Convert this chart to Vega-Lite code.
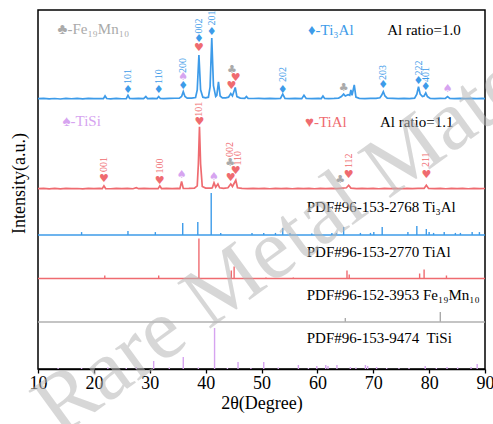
{
  "$schema": "https://vega.github.io/schema/vega-lite/v6.json",
  "width": 447,
  "height": 359,
  "autosize": "none",
  "padding": {"left": 38, "top": 10, "right": 8, "bottom": 55},
  "background": "white",
  "config": {
    "view": {"stroke": "#000000", "strokeWidth": 1.5},
    "font": "Liberation Serif",
    "text": {"font": "Liberation Serif"}
  },
  "datasets": {
    "blue": [
      {"t":10.0,"i":0.5},{"t":11,"i":1},{"t":12,"i":0.2},{"t":13,"i":0.8},{"t":14,"i":0},{"t":15,"i":1},{"t":16,"i":0.4},{"t":17,"i":0.9},{"t":18,"i":0.2},{"t":19,"i":1},{"t":20,"i":0.5},{"t":21,"i":0.8},
      {"t":21.7,"i":0.5},{"t":22.0,"i":5},{"t":22.3,"i":0.8},{"t":23,"i":0.3},{"t":24,"i":1},{"t":25,"i":0.4},
      {"t":25.8,"i":0.6},{"t":26.1,"i":6},{"t":26.4,"i":0.8},{"t":27,"i":0.5},{"t":28,"i":1},{"t":28.9,"i":0.5},{"t":29.3,"i":4},{"t":29.6,"i":0.6},
      {"t":30.5,"i":1},{"t":31.3,"i":0.7},{"t":31.6,"i":4},{"t":31.9,"i":0.8},{"t":32.5,"i":0.5},{"t":33.5,"i":1},{"t":34.5,"i":1.2},{"t":35.3,"i":1.5},
      {"t":35.7,"i":4},{"t":36.0,"i":12},{"t":36.3,"i":4},{"t":36.7,"i":1.5},{"t":37.5,"i":1.5},{"t":38.2,"i":2.5},{"t":38.5,"i":15},{"t":38.8,"i":72},{"t":39.1,"i":15},
      {"t":39.5,"i":3},{"t":40.0,"i":2},{"t":40.5,"i":3},{"t":40.8,"i":20},{"t":41.1,"i":100},{"t":41.4,"i":22},{"t":41.8,"i":4},{"t":42.0,"i":6},{"t":42.3,"i":28},{"t":42.6,"i":5},
      {"t":43.0,"i":2},{"t":43.6,"i":2},{"t":44.1,"i":3},{"t":44.5,"i":9},{"t":44.8,"i":5},{"t":45.3,"i":19},{"t":45.6,"i":4},{"t":46.2,"i":1.5},{"t":47.0,"i":1},{"t":47.3,"i":4},{"t":47.6,"i":1},
      {"t":48.5,"i":0.8},{"t":49.5,"i":1},{"t":50.5,"i":0.5},{"t":51.5,"i":1},{"t":52.5,"i":0.6},{"t":53.4,"i":1},{"t":53.8,"i":8},{"t":54.2,"i":1},{"t":55,"i":0.6},{"t":56,"i":1},
      {"t":57.2,"i":0.6},{"t":57.6,"i":6},{"t":58.0,"i":0.8},{"t":59,"i":0.5},{"t":60.2,"i":1},{"t":60.7,"i":0.8},{"t":61.0,"i":5},{"t":61.3,"i":0.8},{"t":62,"i":0.6},{"t":63,"i":1},
      {"t":63.8,"i":1.5},{"t":64.3,"i":4},{"t":64.7,"i":8},{"t":65.0,"i":5},{"t":65.5,"i":7},{"t":65.8,"i":6},{"t":66.0,"i":15},{"t":66.2,"i":6},{"t":66.6,"i":23},{"t":66.9,"i":3},
      {"t":67.5,"i":1},{"t":68.5,"i":0.6},{"t":69.5,"i":1},{"t":70.5,"i":1},{"t":71.2,"i":2},{"t":71.5,"i":6},{"t":71.8,"i":12},{"t":72.1,"i":5},{"t":72.5,"i":1.5},
      {"t":73.5,"i":1},{"t":74.5,"i":0.6},{"t":75.5,"i":1},{"t":76.5,"i":0.5},{"t":77.4,"i":1.5},{"t":77.8,"i":8},{"t":78.1,"i":20},{"t":78.4,"i":8},{"t":78.8,"i":4},{"t":79.1,"i":5},{"t":79.4,"i":10},{"t":79.7,"i":4},
      {"t":80.2,"i":1},{"t":81,"i":0.6},{"t":82,"i":1},{"t":82.9,"i":0.8},{"t":83.3,"i":4},{"t":83.7,"i":1},{"t":84.5,"i":0.6},{"t":85.5,"i":1},{"t":86.5,"i":0.5},{"t":87.5,"i":1},{"t":88.5,"i":0.5},{"t":89.5,"i":1},{"t":90,"i":0.6}
    ],
    "red": [
      {"t":10,"i":0.5},{"t":11,"i":1},{"t":12,"i":0.3},{"t":13,"i":0.9},{"t":14,"i":0.2},{"t":15,"i":1},{"t":16,"i":0.5},{"t":17,"i":0.8},{"t":18,"i":0.3},{"t":19,"i":1},{"t":20,"i":0.5},{"t":21,"i":0.9},
      {"t":21.5,"i":0.6},{"t":21.8,"i":5},{"t":22.1,"i":0.7},{"t":23,"i":0.4},{"t":24,"i":1},{"t":25,"i":0.5},{"t":26,"i":0.9},{"t":27,"i":0.4},{"t":27.6,"i":2},{"t":28,"i":0.5},{"t":29,"i":1},{"t":30,"i":0.5},{"t":31,"i":0.8},
      {"t":31.5,"i":0.6},{"t":31.8,"i":5},{"t":32.1,"i":0.7},{"t":33,"i":1},{"t":34,"i":0.5},{"t":35,"i":1},{"t":35.4,"i":0.8},{"t":35.7,"i":12},{"t":36.0,"i":0.8},{"t":37,"i":1},{"t":38,"i":1.5},
      {"t":38.5,"i":5},{"t":38.7,"i":40},{"t":38.9,"i":100},{"t":39.1,"i":40},{"t":39.4,"i":4},{"t":40,"i":1.5},{"t":41,"i":1.5},{"t":41.2,"i":2},{"t":41.5,"i":10},{"t":41.8,"i":3},{"t":42.2,"i":8},{"t":42.5,"i":2},
      {"t":43.2,"i":1},{"t":44.0,"i":2},{"t":44.5,"i":8},{"t":44.8,"i":4},{"t":45.4,"i":14},{"t":45.7,"i":2},{"t":46.5,"i":1},{"t":47.5,"i":0.6},{"t":48.5,"i":1},{"t":49.5,"i":0.5},
      {"t":50.5,"i":1},{"t":51.5,"i":0.4},{"t":52.5,"i":1},{"t":53.5,"i":0.5},{"t":54.5,"i":0.9},{"t":55.5,"i":0.4},{"t":56.5,"i":1},{"t":57.5,"i":0.5},{"t":58.5,"i":0.9},{"t":59.5,"i":0.4},
      {"t":60.5,"i":1},{"t":61.5,"i":0.5},{"t":62.5,"i":0.9},{"t":63.5,"i":0.5},{"t":64.5,"i":1.5},{"t":65.2,"i":2},{"t":65.6,"i":6},{"t":66.0,"i":1.5},{"t":67,"i":0.6},{"t":68,"i":1},{"t":69,"i":0.5},
      {"t":70,"i":0.9},{"t":71,"i":0.4},{"t":72,"i":1},{"t":73,"i":0.5},{"t":74,"i":0.9},{"t":75,"i":0.4},{"t":76,"i":1},{"t":77,"i":0.5},{"t":78,"i":0.9},{"t":79.1,"i":1},{"t":79.5,"i":6},{"t":79.9,"i":1},
      {"t":81,"i":0.5},{"t":82,"i":1},{"t":83,"i":0.4},{"t":84,"i":0.9},{"t":85,"i":0.5},{"t":86,"i":1},{"t":87,"i":0.4},{"t":88,"i":0.9},{"t":89,"i":0.5},{"t":90,"i":0.8}
    ],
    "blueMarks": [
      {"t":26.1,"i":14.8,"g":"♦","phase":"Ti3Al"},
      {"t":31.6,"i":14.8,"g":"♦","phase":"Ti3Al"},
      {"t":36.0,"i":21.3,"g":"♦","phase":"Ti3Al"},
      {"t":36.0,"i":36.5,"g":"♠","phase":"TiSi"},
      {"t":38.8,"i":83.1,"g":"♥","phase":"TiAl"},
      {"t":38.8,"i":97.8,"g":"♦","phase":"Ti3Al"},
      {"t":41.1,"i":110.3,"g":"♦","phase":"Ti3Al"},
      {"t":44.6,"i":21.3,"g":"♥","phase":"TiAl"},
      {"t":44.7,"i":47.5,"g":"♣","phase":"Fe19Mn10"},
      {"t":45.4,"i":33.9,"g":"♥","phase":"TiAl"},
      {"t":53.8,"i":14.8,"g":"♦","phase":"Ti3Al"},
      {"t":64.7,"i":17.5,"g":"♣","phase":"Fe19Mn10"},
      {"t":71.8,"i":22.9,"g":"♦","phase":"Ti3Al"},
      {"t":78.1,"i":29.5,"g":"♦","phase":"Ti3Al"},
      {"t":79.4,"i":19.2,"g":"♦","phase":"Ti3Al"},
      {"t":83.3,"i":15.9,"g":"♠","phase":"TiSi"}
    ],
    "blueLabels": [
      {"t":26.1,"i":24.6,"hkl":"101","phase":"Ti3Al"},
      {"t":31.6,"i":24.6,"hkl":"110","phase":"Ti3Al"},
      {"t":36.0,"i":42.6,"hkl":"200","phase":"Ti3Al"},
      {"t":38.8,"i":107.4,"hkl":"002","phase":"Ti3Al"},
      {"t":41.1,"i":120.5,"hkl":"201","phase":"Ti3Al"},
      {"t":53.8,"i":27.9,"hkl":"202","phase":"Ti3Al"},
      {"t":71.8,"i":31.1,"hkl":"203","phase":"Ti3Al"},
      {"t":78.1,"i":38.5,"hkl":"222","phase":"Ti3Al"},
      {"t":79.4,"i":27.9,"hkl":"401","phase":"Ti3Al"}
    ],
    "blueNotes": [
      {"t":13.5,"i":114.7,"txt":"♣-Fe₁₉Mn₁₀","phase":"Fe19Mn10"},
      {"t":58.3,"i":113,"txt":"♦-Ti₃Al","phase":"Ti3Al"},
      {"t":72.5,"i":113,"txt":"Al ratio=1.0","phase":"none"}
    ],
    "redMarks": [
      {"t":21.8,"i":15.6,"g":"♥","phase":"TiAl"},
      {"t":31.8,"i":12.8,"g":"♥","phase":"TiAl"},
      {"t":35.7,"i":22.5,"g":"♠","phase":"TiSi"},
      {"t":38.9,"i":108,"g":"♥","phase":"TiAl"},
      {"t":41.5,"i":19.7,"g":"♠","phase":"TiSi"},
      {"t":44.5,"i":17.2,"g":"♥","phase":"TiAl"},
      {"t":44.4,"i":42.2,"g":"♣","phase":"Fe19Mn10"},
      {"t":45.4,"i":28.9,"g":"♥","phase":"TiAl"},
      {"t":64.1,"i":14.4,"g":"♣","phase":"Fe19Mn10"},
      {"t":65.6,"i":22.5,"g":"♥","phase":"TiAl"},
      {"t":79.5,"i":22.5,"g":"♥","phase":"TiAl"}
    ],
    "redLabels": [
      {"t":21.8,"i":27.3,"hkl":"001","phase":"TiAl"},
      {"t":31.8,"i":24.9,"hkl":"100","phase":"TiAl"},
      {"t":38.9,"i":116,"hkl":"101","phase":"TiAl"},
      {"t":44.4,"i":51.4,"hkl":"002","phase":"TiAl"},
      {"t":45.8,"i":37.7,"hkl":"110","phase":"TiAl"},
      {"t":65.6,"i":33.7,"hkl":"112","phase":"TiAl"},
      {"t":79.5,"i":35.3,"hkl":"211","phase":"TiAl"}
    ],
    "redNotes": [
      {"t":14.4,"i":109.1,"txt":"♠-TiSi","phase":"TiSi"},
      {"t":57.8,"i":108,"txt":"♥-TiAl","phase":"TiAl"},
      {"t":71.2,"i":108,"txt":"Al ratio=1.1","phase":"none"}
    ],
    "ti3alSticks": [
      {"t":17.8,"i":7},{"t":26.1,"i":9.5},{"t":31.0,"i":7},{"t":35.9,"i":28.6},{"t":38.6,"i":31},{"t":41.0,"i":100},{"t":42.7,"i":5},{"t":48.3,"i":5},{"t":50.4,"i":5},{"t":52.5,"i":5},
      {"t":53.8,"i":16.7},{"t":55.1,"i":5},{"t":59.0,"i":3.6},{"t":62.6,"i":5},{"t":63.4,"i":5},{"t":64.7,"i":19},{"t":67.7,"i":5},{"t":69.5,"i":5},{"t":70.1,"i":7},{"t":71.6,"i":19},
      {"t":76.2,"i":7},{"t":77.8,"i":21.4},{"t":79.5,"i":14.3},{"t":80.0,"i":7},{"t":80.8,"i":5},{"t":82.7,"i":7},{"t":84.7,"i":5},{"t":85.6,"i":5},{"t":87.7,"i":7},{"t":89.0,"i":7}
    ],
    "ti3alNotes": [{"t":58.1,"i":67.4,"txt":"PDF#96-153-2768 Ti₃Al","phase":"none"}],
    "tialSticks": [
      {"t":21.95,"i":7},{"t":31.6,"i":7},{"t":38.8,"i":93},{"t":44.6,"i":18.6},{"t":45.1,"i":27.9},{"t":50.8,"i":2.3},{"t":55.7,"i":2.3},{"t":65.3,"i":18.6},{"t":65.7,"i":9.3},{"t":78.3,"i":11.6},{"t":79.1,"i":20.9},{"t":83.1,"i":7}
    ],
    "tialNotes": [{"t":58.1,"i":62.3,"txt":"PDF#96-153-2770 TiAl","phase":"none"}],
    "femnSticks": [{"t":65.0,"i":9.3},{"t":82.0,"i":23.3}],
    "femnNotes": [{"t":58.1,"i":62.8,"txt":"PDF#96-152-3953 Fe₁₉Mn₁₀","phase":"none"}],
    "tisiSticks": [
      {"t":13.6,"i":2.4},{"t":17.8,"i":2.4},{"t":22.5,"i":3.7},{"t":25.8,"i":2.4},{"t":27.6,"i":4.9},{"t":30.7,"i":19.5},{"t":33.5,"i":3.7},{"t":36.0,"i":29.3},{"t":38.7,"i":3.7},{"t":41.6,"i":100},
      {"t":43.9,"i":2.4},{"t":45.8,"i":17},{"t":48.1,"i":2.4},{"t":50.4,"i":17},{"t":53.0,"i":3.7},{"t":56.6,"i":9.8},{"t":58.4,"i":2.4},{"t":59.9,"i":7.3},{"t":61.5,"i":9.8},{"t":61.9,"i":7.3},
      {"t":63.5,"i":9.8},{"t":65.9,"i":4.9},{"t":66.9,"i":3.7},{"t":68.6,"i":9.8},{"t":69.0,"i":7.3},{"t":70.6,"i":4.9},{"t":72.4,"i":2.4},{"t":74.6,"i":2.4},{"t":76.4,"i":2.4},{"t":79.3,"i":7.3},
      {"t":81.3,"i":2.4},{"t":83.2,"i":4.9},{"t":85.1,"i":3.7},{"t":87.5,"i":4.9},{"t":88.6,"i":12.2}
    ],
    "tisiNotes": [{"t":58.1,"i":74.9,"txt":"PDF#96-153-9474\u00a0 TiSi","phase":"none"}],
    "baseline": [{"i":0}],
    "watermark": [{"t":13.85,"i":-168.3,"txt":"Rare Metal Materials"}]
  },
  "layer": [
    {
      "layer": [
        {
          "data": {"name": "blue"},
          "mark": {"type": "line", "color": "#3d9be9", "strokeWidth": 1.7},
          "encoding": {
            "x": {"field": "t", "type": "quantitative", "scale": {"domain": [10, 90], "nice": false, "zero": false},
              "axis": {"title": "2θ(Degree)", "values": [10,20,30,40,50,60,70,80,90], "tickSize": 4, "tickColor": "#000000", "tickWidth": 1.3,
                "domainColor": "#000000", "domainWidth": 1.5, "labelFont": "Liberation Serif", "labelFontSize": 18, "labelColor": "#000000",
                "labelPadding": 1, "labelFlush": false, "labelOverlap": false, "titleFont": "Liberation Serif", "titleFontSize": 18,
                "titleFontWeight": "normal", "titleColor": "#000000", "titlePadding": 2, "grid": false}},
            "y": {"field": "i", "type": "quantitative", "scale": {"domain": [-442.6, 145.9], "nice": false, "zero": false},
              "axis": {"title": "Intensity(a.u.)", "labels": false, "ticks": false, "domain": false, "grid": false,
                "titleFont": "Liberation Serif", "titleFontSize": 18, "titleFontWeight": "normal", "titleColor": "#000000",
                "titleX": -14, "titleY": 173, "titleBaseline": "alphabetic"}}
          }
        },
        {
          "data": {"name": "blueMarks"},
          "mark": {"type": "text", "font": "DejaVu Sans", "fontSize": 11, "baseline": "middle", "align": "center"},
          "encoding": {
            "x": {"field": "t", "type": "quantitative", "scale": {"domain": [10, 90], "nice": false, "zero": false}},
            "y": {"field": "i", "type": "quantitative", "scale": {"domain": [-442.6, 145.9], "nice": false, "zero": false}},
            "text": {"field": "g"},
            "color": {"field": "phase", "type": "nominal", "legend": null,
              "scale": {"domain": ["Ti3Al","TiAl","Fe19Mn10","TiSi","none"], "range": ["#3d9be9","#ef6b70","#aaaaaa","#d6a4f0","#000000"]}}
          }
        },
        {
          "data": {"name": "blueLabels"},
          "mark": {"type": "text", "fontSize": 10, "angle": 270, "align": "left", "baseline": "middle"},
          "encoding": {
            "x": {"field": "t", "type": "quantitative", "scale": {"domain": [10, 90], "nice": false, "zero": false}},
            "y": {"field": "i", "type": "quantitative", "scale": {"domain": [-442.6, 145.9], "nice": false, "zero": false}},
            "text": {"field": "hkl"},
            "color": {"field": "phase", "type": "nominal", "legend": null,
              "scale": {"domain": ["Ti3Al","TiAl","Fe19Mn10","TiSi","none"], "range": ["#3d9be9","#ef6b70","#aaaaaa","#d6a4f0","#000000"]}}
          }
        },
        {
          "data": {"name": "blueNotes"},
          "mark": {"type": "text", "fontSize": 15, "align": "left", "baseline": "middle"},
          "encoding": {
            "x": {"field": "t", "type": "quantitative", "scale": {"domain": [10, 90], "nice": false, "zero": false}},
            "y": {"field": "i", "type": "quantitative", "scale": {"domain": [-442.6, 145.9], "nice": false, "zero": false}},
            "text": {"field": "txt"},
            "color": {"field": "phase", "type": "nominal", "legend": null,
              "scale": {"domain": ["Ti3Al","TiAl","Fe19Mn10","TiSi","none"], "range": ["#3d9be9","#ef6b70","#aaaaaa","#d6a4f0","#000000"]}}
          }
        }
      ]
    },
    {
      "layer": [
        {
          "data": {"name": "red"},
          "mark": {"type": "line", "color": "#ef6b70", "strokeWidth": 1.7},
          "encoding": {
            "x": {"field": "t", "type": "quantitative", "scale": {"domain": [10, 90], "nice": false, "zero": false}},
            "y": {"field": "i", "type": "quantitative", "axis": null, "scale": {"domain": [-288.9, 287.3], "nice": false, "zero": false}}
          }
        },
        {
          "data": {"name": "redMarks"},
          "mark": {"type": "text", "font": "DejaVu Sans", "fontSize": 11, "baseline": "middle", "align": "center"},
          "encoding": {
            "x": {"field": "t", "type": "quantitative", "scale": {"domain": [10, 90], "nice": false, "zero": false}},
            "y": {"field": "i", "type": "quantitative", "axis": null, "scale": {"domain": [-288.9, 287.3], "nice": false, "zero": false}},
            "text": {"field": "g"},
            "color": {"field": "phase", "type": "nominal", "legend": null,
              "scale": {"domain": ["Ti3Al","TiAl","Fe19Mn10","TiSi","none"], "range": ["#3d9be9","#ef6b70","#aaaaaa","#d6a4f0","#000000"]}}
          }
        },
        {
          "data": {"name": "redLabels"},
          "mark": {"type": "text", "fontSize": 10, "angle": 270, "align": "left", "baseline": "middle"},
          "encoding": {
            "x": {"field": "t", "type": "quantitative", "scale": {"domain": [10, 90], "nice": false, "zero": false}},
            "y": {"field": "i", "type": "quantitative", "axis": null, "scale": {"domain": [-288.9, 287.3], "nice": false, "zero": false}},
            "text": {"field": "hkl"},
            "color": {"field": "phase", "type": "nominal", "legend": null,
              "scale": {"domain": ["Ti3Al","TiAl","Fe19Mn10","TiSi","none"], "range": ["#3d9be9","#ef6b70","#aaaaaa","#d6a4f0","#000000"]}}
          }
        },
        {
          "data": {"name": "redNotes"},
          "mark": {"type": "text", "fontSize": 15, "align": "left", "baseline": "middle"},
          "encoding": {
            "x": {"field": "t", "type": "quantitative", "scale": {"domain": [10, 90], "nice": false, "zero": false}},
            "y": {"field": "i", "type": "quantitative", "axis": null, "scale": {"domain": [-288.9, 287.3], "nice": false, "zero": false}},
            "text": {"field": "txt"},
            "color": {"field": "phase", "type": "nominal", "legend": null,
              "scale": {"domain": ["Ti3Al","TiAl","Fe19Mn10","TiSi","none"], "range": ["#3d9be9","#ef6b70","#aaaaaa","#d6a4f0","#000000"]}}
          }
        }
      ]
    },
    {
      "layer": [
        {
          "data": {"name": "ti3alSticks"},
          "mark": {"type": "rule", "color": "#3d9be9", "strokeWidth": 1.4},
          "encoding": {
            "x": {"field": "t", "type": "quantitative", "scale": {"domain": [10, 90], "nice": false, "zero": false}},
            "y": {"field": "i", "type": "quantitative", "axis": null, "scale": {"domain": [-319.0, 535.7], "nice": false, "zero": false}},
            "y2": {"datum": 0}
          }
        },
        {
          "data": {"name": "baseline"},
          "mark": {"type": "rule", "color": "#3d9be9", "strokeWidth": 1.7},
          "encoding": {
            "y": {"field": "i", "type": "quantitative", "axis": null, "scale": {"domain": [-319.0, 535.7], "nice": false, "zero": false}}
          }
        },
        {
          "data": {"name": "ti3alNotes"},
          "mark": {"type": "text", "fontSize": 15, "align": "left", "baseline": "middle", "color": "#000000"},
          "encoding": {
            "x": {"field": "t", "type": "quantitative", "scale": {"domain": [10, 90], "nice": false, "zero": false}},
            "y": {"field": "i", "type": "quantitative", "axis": null, "scale": {"domain": [-319.0, 535.7], "nice": false, "zero": false}},
            "text": {"field": "txt"}
          }
        }
      ]
    },
    {
      "layer": [
        {
          "data": {"name": "tialSticks"},
          "mark": {"type": "rule", "color": "#ef6b70", "strokeWidth": 1.4},
          "encoding": {
            "x": {"field": "t", "type": "quantitative", "scale": {"domain": [10, 90], "nice": false, "zero": false}},
            "y": {"field": "i", "type": "quantitative", "axis": null, "scale": {"domain": [-210.5, 624.5], "nice": false, "zero": false}},
            "y2": {"datum": 0}
          }
        },
        {
          "data": {"name": "baseline"},
          "mark": {"type": "rule", "color": "#ef6b70", "strokeWidth": 1.7},
          "encoding": {
            "y": {"field": "i", "type": "quantitative", "axis": null, "scale": {"domain": [-210.5, 624.5], "nice": false, "zero": false}}
          }
        },
        {
          "data": {"name": "tialNotes"},
          "mark": {"type": "text", "fontSize": 15, "align": "left", "baseline": "middle", "color": "#000000"},
          "encoding": {
            "x": {"field": "t", "type": "quantitative", "scale": {"domain": [10, 90], "nice": false, "zero": false}},
            "y": {"field": "i", "type": "quantitative", "axis": null, "scale": {"domain": [-210.5, 624.5], "nice": false, "zero": false}},
            "text": {"field": "txt"}
          }
        }
      ]
    },
    {
      "layer": [
        {
          "data": {"name": "femnSticks"},
          "mark": {"type": "rule", "color": "#aaaaaa", "strokeWidth": 1.4},
          "encoding": {
            "x": {"field": "t", "type": "quantitative", "scale": {"domain": [10, 90], "nice": false, "zero": false}},
            "y": {"field": "i", "type": "quantitative", "axis": null, "scale": {"domain": [-109.3, 725.7], "nice": false, "zero": false}},
            "y2": {"datum": 0}
          }
        },
        {
          "data": {"name": "baseline"},
          "mark": {"type": "rule", "color": "#b0b0b0", "strokeWidth": 1.7},
          "encoding": {
            "y": {"field": "i", "type": "quantitative", "axis": null, "scale": {"domain": [-109.3, 725.7], "nice": false, "zero": false}}
          }
        },
        {
          "data": {"name": "femnNotes"},
          "mark": {"type": "text", "fontSize": 15, "align": "left", "baseline": "middle", "color": "#000000"},
          "encoding": {
            "x": {"field": "t", "type": "quantitative", "scale": {"domain": [10, 90], "nice": false, "zero": false}},
            "y": {"field": "i", "type": "quantitative", "axis": null, "scale": {"domain": [-109.3, 725.7], "nice": false, "zero": false}},
            "text": {"field": "txt"}
          }
        }
      ]
    },
    {
      "layer": [
        {
          "data": {"name": "tisiSticks"},
          "mark": {"type": "rule", "color": "#d6a4f0", "strokeWidth": 1.4},
          "encoding": {
            "x": {"field": "t", "type": "quantitative", "scale": {"domain": [10, 90], "nice": false, "zero": false}},
            "y": {"field": "i", "type": "quantitative", "axis": null, "scale": {"domain": [0, 875.6], "nice": false, "zero": false}},
            "y2": {"datum": 0}
          }
        },
        {
          "data": {"name": "tisiNotes"},
          "mark": {"type": "text", "fontSize": 15, "align": "left", "baseline": "middle", "color": "#000000"},
          "encoding": {
            "x": {"field": "t", "type": "quantitative", "scale": {"domain": [10, 90], "nice": false, "zero": false}},
            "y": {"field": "i", "type": "quantitative", "axis": null, "scale": {"domain": [0, 875.6], "nice": false, "zero": false}},
            "text": {"field": "txt"}
          }
        },
        {
          "data": {"name": "watermark"},
          "mark": {"type": "text", "fontSize": 86, "angle": 324, "align": "left", "baseline": "alphabetic", "color": "#b8b8b8", "opacity": 0.55},
          "encoding": {
            "x": {"field": "t", "type": "quantitative", "scale": {"domain": [10, 90], "nice": false, "zero": false}},
            "y": {"field": "i", "type": "quantitative", "axis": null, "scale": {"domain": [0, 875.6], "nice": false, "zero": false}},
            "text": {"field": "txt"}
          }
        }
      ]
    }
  ],
  "resolve": {"scale": {"y": "independent"}, "axis": {"y": "independent"}}
}
